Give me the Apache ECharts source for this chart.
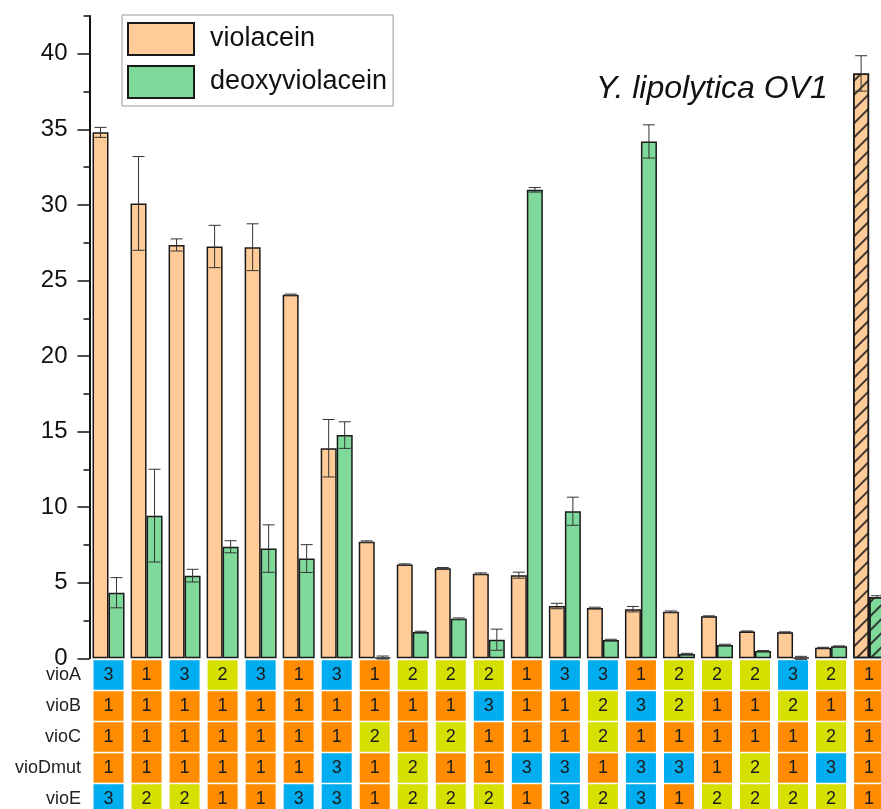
<!DOCTYPE html>
<html>
<head>
<meta charset="utf-8">
<script src="https://cdn.jsdelivr.net/npm/echarts@6/dist/echarts.min.js"></script>
<style>
html,body{margin:0;padding:0;background:#fff;}
#chart{width:881px;height:809px;}
</style>
</head>
<body>
<div id="chart"></div>
<script>
// ---- data ----
var categories = ['S1','S2','S3','S4','S5','S6','S7','S8','S9','S10','S11','S12','S13','S14','S15','S16','S17','S18','S19','S20','OV1'];
var violacein     = [34.8, 30.1, 27.35, 27.25, 27.2, 24.05, 13.9, 7.72, 6.2, 5.96, 5.6, 5.5, 3.46, 3.33, 3.25, 3.08, 2.78, 1.78, 1.72, 0.7, 38.7];
var violaceinErr  = [0.33, 3.1, 0.4, 1.4, 1.55, 0.05, 1.9, 0.05, 0.05, 0.05, 0.05, 0.2, 0.18, 0.05, 0.18, 0.05, 0.03, 0.03, 0.03, 0.03, 1.17];
var deoxyviolacein    = [4.34, 9.44, 5.47, 7.38, 7.26, 6.6, 14.77, 0.05, 1.74, 2.62, 1.23, 31.0, 9.73, 1.21, 34.2, 0.28, 0.88, 0.48, 0.03, 0.79, 4.06];
var deoxyviolaceinErr = [1.0, 3.07, 0.42, 0.4, 1.57, 0.92, 0.88, 0.1, 0.05, 0.05, 0.7, 0.15, 0.93, 0.05, 1.1, 0.05, 0.05, 0.03, 0.1, 0.03, 0.08];
var geneRows = ['vioA','vioB','vioC','vioDmut','vioE'];
var vioA    = [3,1,3,2,3,1,3,1,2,2,2,1,3,3,1,2,2,2,3,2,1];
var vioB    = [1,1,1,1,1,1,1,1,1,1,3,1,1,2,3,2,1,1,2,1,1];
var vioC    = [1,1,1,1,1,1,1,2,1,2,1,1,1,2,1,1,1,1,1,2,1];
var vioDmut = [1,1,1,1,1,1,3,1,2,1,1,3,3,1,3,3,1,2,1,3,1];
var vioE    = [3,2,2,1,1,3,3,1,2,2,2,1,3,2,3,1,2,2,2,2,1];
var majorTicks = [0,5,10,15,20,25,30,35,40];
var titleText = 'Y. lipolytica OV1';
var hatchedIndex = 20;

// ---- styles ----
var FONT = '"Liberation Sans", Arial, sans-serif';
var cellColors = {1:'#FF8C00', 2:'#D5DF00', 3:'#00ADEF'};
var BAND = 38.03, GL = 89.5, GW = BAND * categories.length;
var BW = 16;
var hatch = {symbol:'rect', color:'rgba(30,30,30,0.85)', dashArrayX:[1,0], dashArrayY:[1.2,7.5], rotation:-Math.PI/4};

function barData(vals){
  return vals.map(function(v,i){
    var d = {value:v};
    if(i===hatchedIndex){ d.itemStyle = {decal: hatch}; }
    return d;
  });
}
function errData(vals, errs){
  return vals.map(function(v,i){ return [i, v-errs[i], v+errs[i]]; });
}
function errRender(offset){
  return function(params, api){
    var lo = api.coord([api.value(0), api.value(1)]);
    var hi = api.coord([api.value(0), api.value(2)]);
    var x = lo[0] + offset, cw = 6;
    var st = {stroke:'#333', lineWidth:1};
    return {type:'group', children:[
      {type:'line', shape:{x1:x,y1:lo[1],x2:x,y2:hi[1]}, style:st},
      {type:'line', shape:{x1:x-cw,y1:hi[1],x2:x+cw,y2:hi[1]}, style:st},
      {type:'line', shape:{x1:x-cw,y1:lo[1],x2:x+cw,y2:lo[1]}, style:st}
    ]};
  };
}
var tableRows = [vioA, vioB, vioC, vioDmut, vioE];
var tableData = [];
tableRows.forEach(function(row, r){
  row.forEach(function(v, c){ tableData.push([c, r, v]); });
});

var chart = echarts.init(document.getElementById('chart'));
chart.setOption({
  animation:false,
  textStyle:{fontFamily:FONT},
  grid:[
    {left:GL, width:GW, top:16, height:642.3, outerBoundsMode:'none', containLabel:false},
    {left:GL, width:GW, top:659.5, height:155, outerBoundsMode:'none', containLabel:false}
  ],
  legend:{
    data:[{name:'violacein', icon:'rect'},{name:'deoxyviolacein', icon:'rect'}],
    orient:'vertical', left:122, top:15,
    itemWidth:66, itemHeight:32, itemGap:9,
    padding:[7,6,7,5],
    borderColor:'#999', borderWidth:1,
    textStyle:{fontSize:27, color:'#111', fontFamily:FONT, padding:[0,0,0,11]}
  },
  graphic:[{
    type:'text', left:596, top:73,
    style:{text:titleText, font:'italic 32px '+FONT, fill:'#111'}
  }],
  xAxis:[
    {type:'category', data:categories, gridIndex:0, show:false},
    {type:'category', data:categories, gridIndex:1, show:false}
  ],
  yAxis:[
    {type:'value', gridIndex:0, min:0, max:42.5, interval:2.5,
     axisLine:{show:true, lineStyle:{color:'#111', width:2}},
     axisTick:{show:true, length:6, lineStyle:{color:'#111', width:1.5}},
     axisLabel:{customValues:majorTicks, fontSize:24, color:'#111', margin:22, fontFamily:FONT},
     splitLine:{show:false}},
    {type:'value', gridIndex:0, min:0, max:42.5, interval:2.5, position:'left',
     axisLine:{show:false},
     axisTick:{show:true, customValues:majorTicks, length:12, lineStyle:{color:'#111', width:1.5}},
     axisLabel:{show:false}, splitLine:{show:false}},
    {type:'category', gridIndex:1, data:geneRows, inverse:true,
     axisLine:{show:false}, axisTick:{show:false}, splitLine:{show:false},
     axisLabel:{fontSize:18, color:'#222', margin:8.5, fontFamily:FONT}}
  ],
  series:[
    {name:'violacein', type:'bar', xAxisIndex:0, yAxisIndex:0, data:barData(violacein),
     barWidth:BW, barGap:'0%',
     itemStyle:{color:'#FFCC99', borderColor:'#1a1a1a', borderWidth:1.5}},
    {name:'deoxyviolacein', type:'bar', xAxisIndex:0, yAxisIndex:0, data:barData(deoxyviolacein),
     barWidth:BW, barGap:'0%',
     itemStyle:{color:'#7ED99A', borderColor:'#1a1a1a', borderWidth:1.5}},
    {type:'custom', name:'violaceinErr', xAxisIndex:0, yAxisIndex:0, z:5,
     data:errData(violacein, violaceinErr), renderItem:errRender(-BW/2)},
    {type:'custom', name:'deoxyErr', xAxisIndex:0, yAxisIndex:0, z:5,
     data:errData(deoxyviolacein, deoxyviolaceinErr), renderItem:errRender(BW/2)},
    {type:'custom', name:'table', xAxisIndex:1, yAxisIndex:2,
     data:tableData,
     renderItem:function(params, api){
       var p = api.coord([api.value(0), api.value(1)]);
       var s = api.size([1,1]);
       var w = 30, h = s[1]-1.5;
       var v = api.value(2);
       return {type:'group', children:[
         {type:'rect', shape:{x:p[0]-w/2, y:p[1]-h/2, width:w, height:h}, style:{fill:cellColors[v]}},
         {type:'text', x:p[0], y:p[1], style:{text:String(v), fill:'#1a1a1a', font:'18px '+FONT, align:'center', verticalAlign:'middle'}}
       ]};
     }}
  ]
});
</script>
</body>
</html>
